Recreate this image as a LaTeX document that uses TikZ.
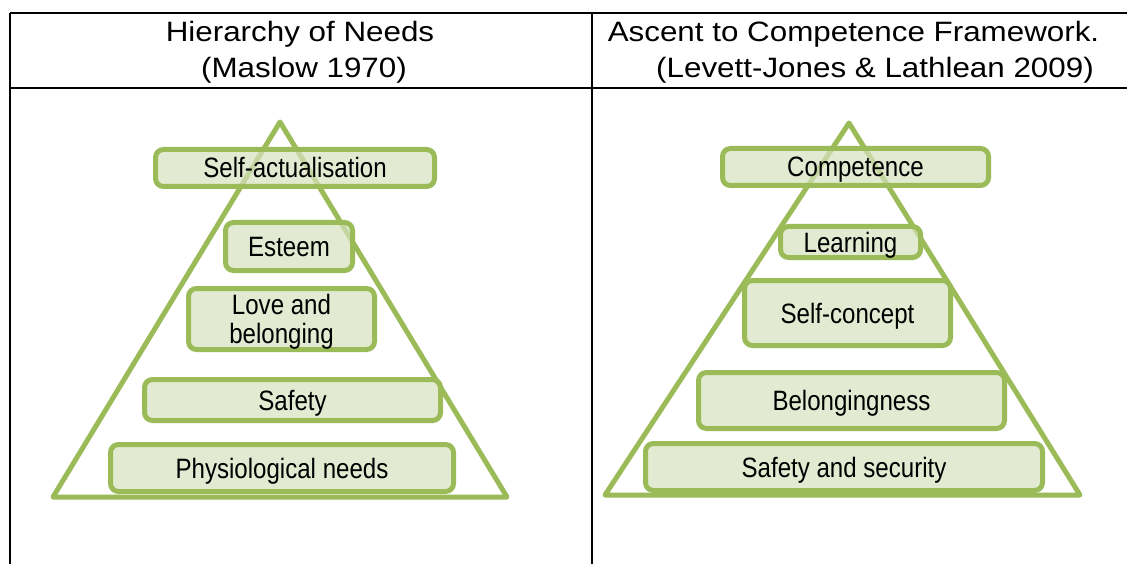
\documentclass[tikz,border=0pt]{standalone}
\usepackage{fontspec}
\setmainfont{Liberation Sans}
\newfontfamily\hdrfont[FakeStretch=1.12]{Liberation Sans}
\newfontfamily\boxfont[FakeStretch=0.86]{Liberation Sans}
\definecolor{lvgreen}{RGB}{155,187,89}
\definecolor{lvfill}{RGB}{214,226,190}
\begin{document}
\begin{tikzpicture}[x=1pt,y=-1pt,
  rule/.style={line width=2pt, draw=black},
  pyramid/.style={draw=lvgreen, line width=5pt, line join=round},
  level/.style={draw=lvgreen, line width=5pt, fill=lvfill, fill opacity=0.7, text opacity=1,
    rounded corners=8pt, inner sep=0pt, align=center, text=black,
    text height=20pt, text depth=0pt,
    font=\boxfont\fontsize{28}{29}\selectfont},
  head/.style={anchor=base, inner sep=0pt, text=black, font=\hdrfont\fontsize{28}{36}\selectfont}]
\useasboundingbox (0,0) rectangle (1127,564);
\fill[white] (0,0) rectangle (1127,564);
% table rules
\coordinate (tl) at (10,13);
\coordinate (tr) at (1127,13);
\coordinate (hl) at (10,88);
\coordinate (hr) at (1127,88);
\coordinate (bl) at (10,564);
\coordinate (tm) at (592,13);
\coordinate (bm) at (592,564);
\draw[rule] (tl) -- (tr);
\draw[rule] (hl) -- (hr);
\draw[rule] (tl) -- (bl);
\draw[rule] (tm) -- (bm);
% headers
\node[head] (h1a) at (300,42) {Hierarchy of Needs};
\node[head] (h1b) at (304,78) {(Maslow 1970)};
\node[head] (h2a) at (853.5,42) {Ascent to Competence Framework.};
\node[head] (h2b) at (875,78) {(Levett-Jones \& Lathlean 2009)};
% pyramids
\coordinate (la) at (280,122);
\coordinate (lb) at (53,497);
\coordinate (lc) at (507,497);
\draw[pyramid] (la) -- (lb) -- (lc) -- cycle;
\coordinate (ra) at (849,123);
\coordinate (rb) at (605,495);
\coordinate (rc) at (1080,495);
\draw[pyramid] (ra) -- (rb) -- (rc) -- cycle;
% left levels
\node[level, minimum width=279pt, minimum height=37pt] (sa) at (295,168) {Self-actualisation};
\node[level, minimum width=127pt, minimum height=48pt] (es) at (289,246.5) {Esteem};
\node[level, minimum width=186pt, minimum height=61pt, text height=49pt] (lo) at (281.5,319) {Love and\\belonging};
\node[level, minimum width=296pt, minimum height=41pt] (sf) at (292.5,400) {Safety};
\node[level, minimum width=343pt, minimum height=47pt] (ph) at (282,468) {Physiological needs};
% right levels
\node[level, minimum width=266pt, minimum height=37pt] (co) at (855.5,167) {Competence};
\node[level, minimum width=140pt, minimum height=31pt] (le) at (850.5,242) {Learning};
\node[level, minimum width=206pt, minimum height=65pt] (sc) at (847.5,313) {Self-concept};
\node[level, minimum width=306pt, minimum height=56pt] (be) at (851.5,400.5) {Belongingness};
\node[level, minimum width=397pt, minimum height=47pt] (ss) at (844,467) {Safety and security};
\end{tikzpicture}
\end{document}
